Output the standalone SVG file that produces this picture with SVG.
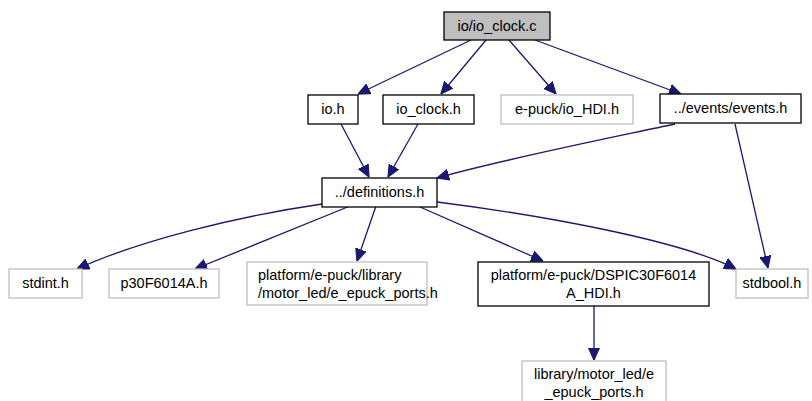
<svg xmlns="http://www.w3.org/2000/svg" width="812" height="401" viewBox="0 0 812 401">
<style>
text{font-family:"Liberation Sans",Arial,sans-serif;font-size:14.5px;fill:#000;text-anchor:middle}
.n rect{fill:#fff;stroke:#000;stroke-width:1.3}
.g rect{fill:#fff;stroke:#bfbfbf;stroke-width:1.3}
.r rect{fill:#bfbfbf;stroke:#000;stroke-width:1.3}
#edges path{fill:none;stroke:#191970;stroke-width:1.3}
</style>
<defs>
<marker id="a" viewBox="0 0 10 10" refX="10" refY="5" markerWidth="12" markerHeight="12" markerUnits="userSpaceOnUse" orient="auto">
<path d="M0,0.5 L10,5 L0,9.5 Z" fill="#191970" stroke="#191970"/>
</marker>
</defs>
<g id="edges">
<path d="M471,40 L358,94" marker-end="url(#a)"/>
<path d="M486,40 L441,94" marker-end="url(#a)"/>
<path d="M509,40 L556,94" marker-end="url(#a)"/>
<path d="M535,40 L681,94" marker-end="url(#a)"/>
<path d="M341,124 L369,177" marker-end="url(#a)"/>
<path d="M418,124 L388,177" marker-end="url(#a)"/>
<path d="M675,124 C600,140 500,160 437,178" marker-end="url(#a)"/>
<path d="M735,124 L768,268" marker-end="url(#a)"/>
<path d="M322,204 C240,216 140,240 77,269" marker-end="url(#a)"/>
<path d="M350,206 L195,269" marker-end="url(#a)"/>
<path d="M376,206 L357,261" marker-end="url(#a)"/>
<path d="M420,207 L543,261" marker-end="url(#a)"/>
<path d="M437,202 C540,215 680,240 736,269" marker-end="url(#a)"/>
<path d="M594,306 L594,360" marker-end="url(#a)"/>
</g>
<g id="n_root" class="r"><rect x="444" y="12" width="106" height="28"/><text x="497" y="31">io/io_clock.c</text></g>
<g id="n_io" class="n"><rect x="308" y="95" width="50" height="29"/><text x="333" y="114">io.h</text></g>
<g id="n_ioclock" class="n"><rect x="383" y="95" width="91" height="29"/><text x="428.5" y="114">io_clock.h</text></g>
<g id="n_iohdi" class="g"><rect x="501" y="95" width="132" height="29"/><text x="567" y="114">e-puck/io_HDI.h</text></g>
<g id="n_events" class="n"><rect x="660" y="94" width="141" height="29"/><text x="730.5" y="113">../events/events.h</text></g>
<g id="n_defs" class="n"><rect x="322" y="178" width="115" height="29"/><text x="379.5" y="197">../definitions.h</text></g>
<g id="n_stdint" class="g"><rect x="9" y="269" width="73" height="29"/><text x="45.5" y="288">stdint.h</text></g>
<g id="n_p30" class="g"><rect x="109" y="269" width="110" height="29"/><text x="164" y="288">p30F6014A.h</text></g>
<g id="n_plib" class="g"><rect x="247" y="262" width="180" height="43"/><text x="258" y="280" style="text-anchor:start">platform/e-puck/library</text><text x="258" y="298" style="text-anchor:start">/motor_led/e_epuck_ports.h</text></g>
<g id="n_dspic" class="n"><rect x="478" y="262" width="231" height="44"/><text x="593.5" y="280">platform/e-puck/DSPIC30F6014</text><text x="593.5" y="298">A_HDI.h</text></g>
<g id="n_stdbool" class="g"><rect x="736" y="269" width="72" height="29"/><text x="772" y="288">stdbool.h</text></g>
<g id="n_lib" class="g"><rect x="522" y="361" width="144" height="44"/><text x="594" y="379">library/motor_led/e</text><text x="594" y="397">_epuck_ports.h</text></g>
</svg>
